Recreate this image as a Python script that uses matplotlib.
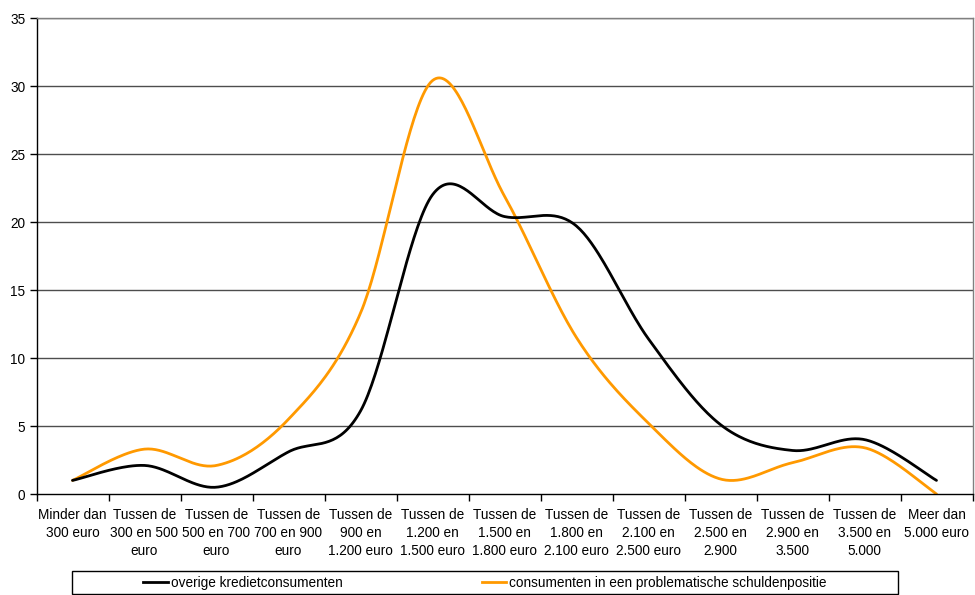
import numpy as np
import matplotlib.pyplot as plt
from matplotlib.patches import Rectangle
from matplotlib.lines import Line2D

plt.rcParams['font.family'] = ['Liberation Sans', 'DejaVu Sans']

# ----------------------------
# Data
# ----------------------------
categories = [
    "Minder dan\n300 euro",
    "Tussen de\n300 en 500\neuro",
    "Tussen de\n500 en 700\neuro",
    "Tussen de\n700 en 900\neuro",
    "Tussen de\n900 en\n1.200 euro",
    "Tussen de\n1.200 en\n1.500 euro",
    "Tussen de\n1.500 en\n1.800 euro",
    "Tussen de\n1.800 en\n2.100 euro",
    "Tussen de\n2.100 en\n2.500 euro",
    "Tussen de\n2.500 en\n2.900",
    "Tussen de\n2.900 en\n3.500",
    "Tussen de\n3.500 en\n5.000",
    "Meer dan\n5.000 euro",
]

overige = [1.0, 2.1, 0.5, 3.1, 6.1, 22.0, 20.4, 19.7, 11.4, 5.1, 3.2, 4.0, 1.0]
problematisch = [1.0, 3.3, 2.1, 5.5, 13.3, 30.4, 21.9, 11.5, 5.2, 1.1, 2.3, 3.4, 0.0]

label_overige = "overige kredietconsumenten"
label_problematisch = "consumenten in een problematische schuldenpositie"

black = "#000000"
orange = "#FF9900"


# ----------------------------
# Excel style smoothed line (Bezier through the points)
# ----------------------------
def smooth(values, steps=40):
    x = np.arange(len(values), dtype=float)
    y = np.asarray(values, dtype=float)
    px = np.concatenate([[x[0]], x, [x[-1]]])
    py = np.concatenate([[y[0]], y, [y[-1]]])
    t = np.linspace(0, 1, steps)
    xs, ys = [], []
    for i in range(len(values) - 1):
        p0 = np.array([px[i + 1], py[i + 1]])
        p3 = np.array([px[i + 2], py[i + 2]])
        c1 = p0 + (np.array([px[i + 2], py[i + 2]]) - np.array([px[i], py[i]])) / 6
        c2 = p3 - (np.array([px[i + 3], py[i + 3]]) - np.array([px[i + 1], py[i + 1]])) / 6
        b = ((1 - t) ** 3)[:, None] * p0 + (3 * (1 - t) ** 2 * t)[:, None] * c1 \
            + (3 * (1 - t) * t ** 2)[:, None] * c2 + (t ** 3)[:, None] * p3
        xs.extend(b[:, 0])
        ys.extend(b[:, 1])
    return np.array(xs), np.array(ys)


fig = plt.figure(figsize=(9.75, 5.95), dpi=100)
ax = fig.add_axes([36.5 / 975, 1 - 494 / 595, 936 / 975, 476 / 595])

for yv in range(5, 40, 5):
    ax.axhline(yv, color="#4d4d4d", lw=1, zorder=1)

xs, ys = smooth(overige)
ax.plot(xs, ys, color=black, lw=2, zorder=3, solid_capstyle="round")
xs, ys = smooth(problematisch)
ax.plot(xs, ys, color=orange, lw=2, zorder=2, solid_capstyle="round")

ax.set_xlim(-0.5, len(categories) - 0.5)
ax.set_ylim(0, 35)
ax.set_yticks(range(0, 40, 5))
ax.set_xticks(range(len(categories)))
ax.set_xticklabels(categories, fontsize=9.8, linespacing=1.35, va="top")
ax.set_xticks(np.arange(-0.5, len(categories), 1), minor=True)
ax.tick_params(axis="x", which="major", length=0, pad=10)
ax.tick_params(axis="x", which="minor", length=5, width=1, direction="out")
ax.tick_params(axis="y", length=5, width=1, direction="out", labelsize=9.8, pad=3)

for side in ["top", "right"]:
    ax.spines[side].set_color("#808080")
    ax.spines[side].set_linewidth(1)
for side in ["left", "bottom"]:
    ax.spines[side].set_color("#000000")
    ax.spines[side].set_linewidth(1)

# ----------------------------
# Legend box at the bottom
# ----------------------------
x0, x1 = 72 / 975, 898 / 975
y0, y1 = 1 - 594 / 595, 1 - 571 / 595
fig.add_artist(Rectangle((x0, y0), x1 - x0, y1 - y0, transform=fig.transFigure,
                         facecolor="white", edgecolor="black", lw=1))
handles = [Line2D([], [], color=black, lw=2), Line2D([], [], color=orange, lw=2)]
fig.legend(handles, [label_overige, label_problematisch], loc="center",
           bbox_to_anchor=((x0 + x1) / 2, (y0 + y1) / 2), ncol=2, frameon=False,
           fontsize=9.8, handlelength=1.8, handletextpad=0.25, columnspacing=10.2,
           borderpad=0)

fig.savefig("out.png", dpi=100)
